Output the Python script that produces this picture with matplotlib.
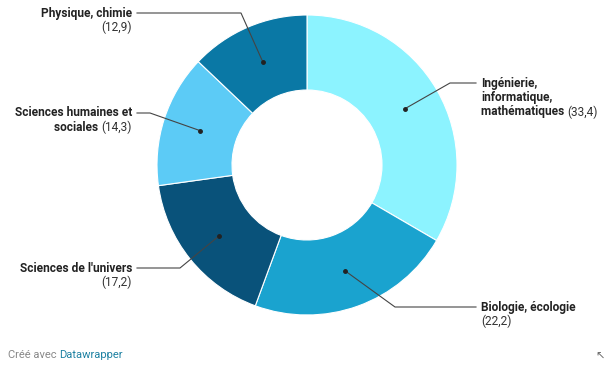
import matplotlib.pyplot as plt
import numpy as np

plt.rcParams['font.family'] = ['Roboto', 'DejaVu Sans']

# data
names = ["Ingénierie,\ninformatique,\nmathématiques", "Biologie, écologie",
         "Sciences de l'univers", "Sciences humaines et\nsociales", "Physique, chimie"]
values = [33.4, 22.2, 17.2, 14.3, 12.9]
value_labels = ["(33,4)", "(22,2)", "(17,2)", "(14,3)", "(12,9)"]
colors = ["#8cf3ff", "#1aa3cf", "#09527a", "#5ccbf6", "#0a78a5"]

# layout (pixel coords, y from top)
W, H = 608, 367
cx, cy, r = 307, 165, 150
# elbow point, label anchor x, side
label_pos = [((450, 83), 481, 'left'),
             ((395, 307), 481, 'left'),
             ((180, 268), 132, 'right'),
             ((150, 113), 132, 'right'),
             ((241, 13), 132, 'right')]
# value shown on last line (True) or on a new line (False)
inline_value = [True, False, False, True, False]

fig = plt.figure(figsize=(W / 100, H / 100), dpi=100)
ax = fig.add_axes([0, 0, 1, 1])

wedges, _ = ax.pie(values, colors=colors, startangle=90, counterclock=False,
                   center=(cx, H - cy), radius=r,
                   wedgeprops=dict(width=r * 0.5, edgecolor='white', linewidth=0.8))
ax.set_xlim(0, W)
ax.set_ylim(0, H)
ax.set_aspect('equal')
ax.axis('off')

fig.canvas.draw()
renderer = fig.canvas.get_renderer()
line_h = 14.5
fs = 8.6

for i, w in enumerate(wedges):
    ang = np.deg2rad((w.theta1 + w.theta2) / 2)
    dx = cx + r * 0.75 * np.cos(ang)
    dy = (H - cy) + r * 0.75 * np.sin(ang)
    (ex, ey), tx, side = label_pos[i]
    ey = H - ey
    ax.plot([dx, ex, tx - 5 if side == 'left' else tx + 5], [dy, ey, ey],
            color='#444444', lw=0.8, zorder=3)
    ax.plot(dx, dy, 'o', color='#222222', ms=2.5, zorder=4)

    lines = names[i].split('\n')
    for j, ln in enumerate(lines):
        y = ey - j * line_h
        last = j == len(lines) - 1
        if last and inline_value[i]:
            if side == 'left':
                t = ax.text(tx, y, ln + " ", ha='left', va='center', fontsize=fs,
                            fontweight='bold', color='#222222')
                bb = t.get_window_extent(renderer)
                ax.text(bb.x1, y, value_labels[i], ha='left', va='center',
                        fontsize=fs, color='#333333')
            else:
                t = ax.text(tx, y, value_labels[i], ha='right', va='center',
                            fontsize=fs, color='#333333')
                bb = t.get_window_extent(renderer)
                ax.text(bb.x0, y, ln + " ", ha='right', va='center', fontsize=fs,
                        fontweight='bold', color='#222222')
        else:
            ax.text(tx, y, ln, ha=side, va='center', fontsize=fs,
                    fontweight='bold', color='#222222')
    if not inline_value[i]:
        ax.text(tx, ey - len(lines) * line_h, value_labels[i], ha=side, va='center',
                fontsize=fs, color='#333333')

# footer
t = ax.text(8, H - 355, "Créé avec ", ha='left', va='center', fontsize=8,
            color='#888888')
bb = t.get_window_extent(renderer)
ax.text(bb.x1, H - 355, "Datawrapper", ha='left', va='center', fontsize=8,
        color='#1d81a2')
ax.text(600, H - 357, "↖", ha='center', va='center', fontsize=8,
        color='#666666', family='DejaVu Sans')

fig.savefig('out.png', dpi=100)
